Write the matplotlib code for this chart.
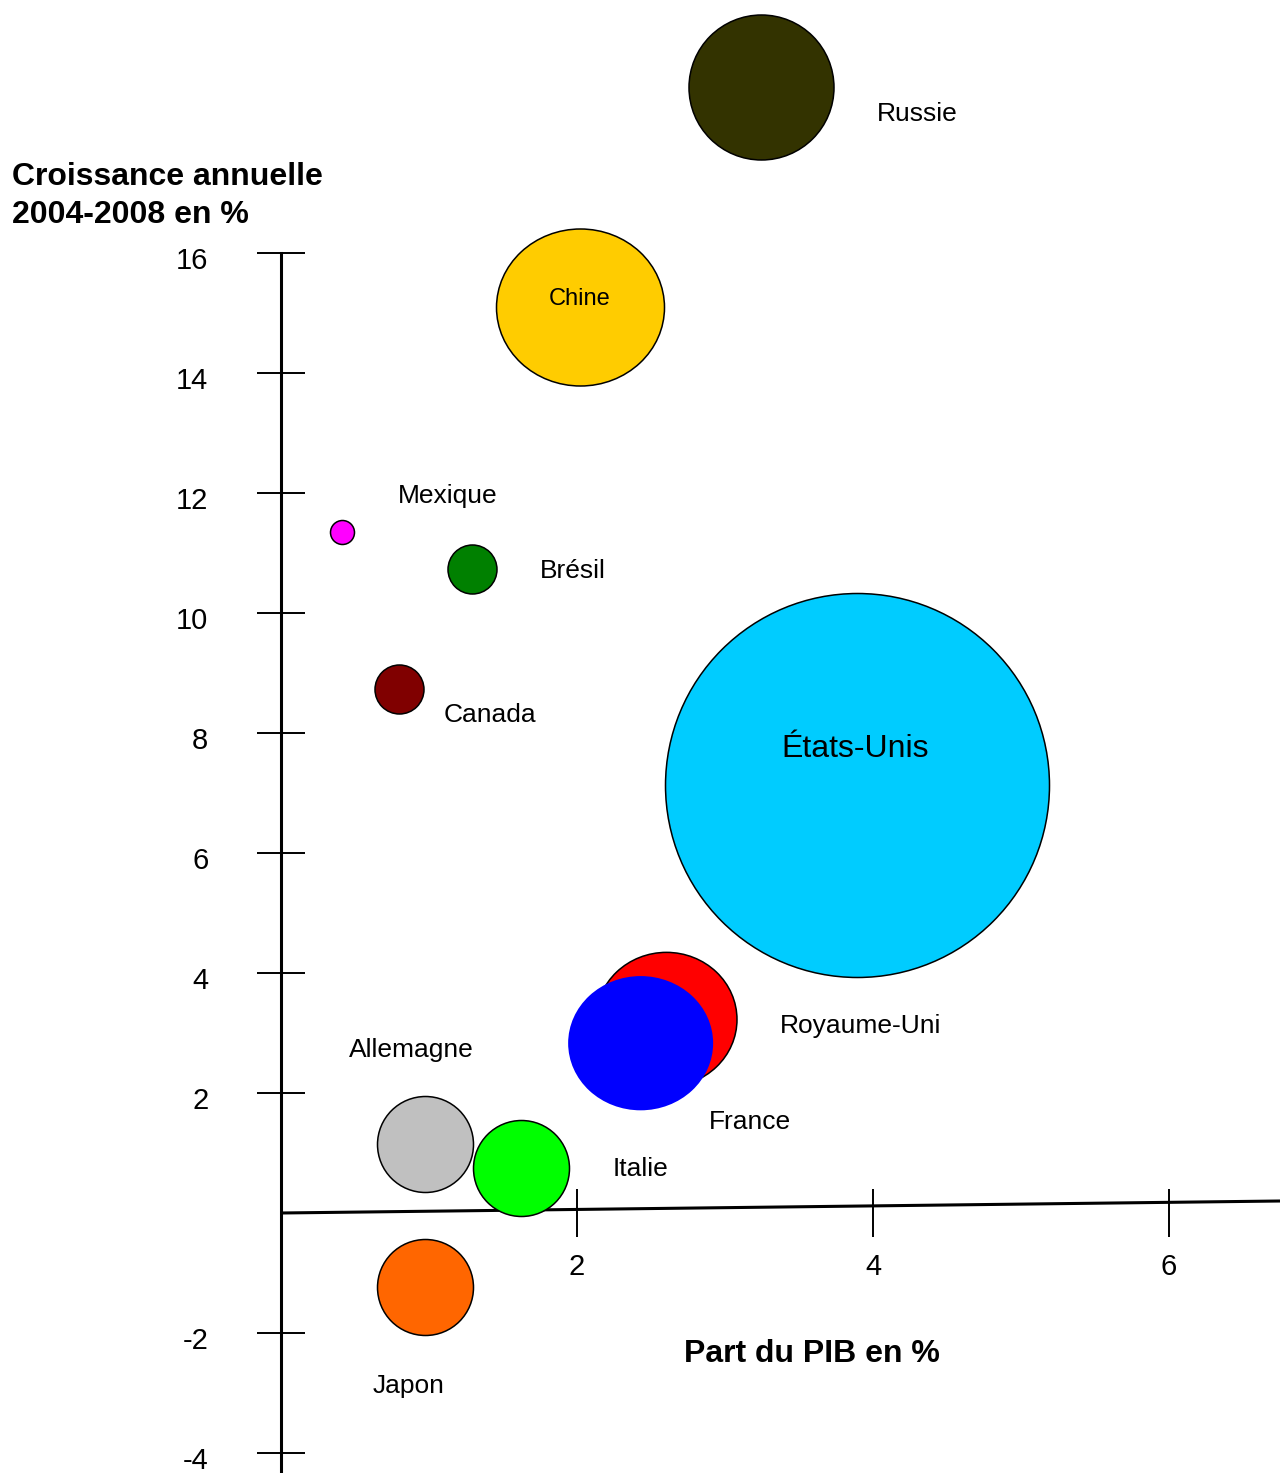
import numpy as np
import matplotlib
matplotlib.use("Agg")
import matplotlib.pyplot as plt
from matplotlib.path import Path
from matplotlib.transforms import ScaledTranslation

plt.rcParams['font.family'] = ['Liberation Sans', 'DejaVu Sans']

# données
pays = ['Russie', 'Chine', 'Mexique', 'Brésil', 'Canada', 'États-Unis',
        'Royaume-Uni', 'France', 'Allemagne', 'Italie', 'Japon']
part_pib = [3.24, 2.02, 0.41, 1.29, 0.80, 3.89, 2.60, 2.43, 0.97, 1.62, 0.97]
croissance = [18.77, 15.10, 11.35, 10.74, 8.74, 7.14, 3.23, 2.83, 1.15, 0.75, -1.23]
taille = [145, 168, 24, 49, 49, 384, 141, 145, 96, 96, 96]
couleurs = ['#333300', '#FFCC00', '#FF00FF', '#008000', '#800000', '#00CCFF',
            '#FF0000', '#0000FF', '#C0C0C0', '#00FF00', '#FF6600']
y_ticks = [-4, -2, 2, 4, 6, 8, 10, 12, 14, 16]
x_ticks = [2, 4, 6]

# forme des bulles (largeur / hauteur) et décalage des étiquettes en pixels
aspect = {'Chine': 1.07, 'Royaume-Uni': 1.05, 'France': 1.08}
etiq = {
    'Russie': (116, -27, 'left', 19),
    'Chine': (0, 8, 'center', 17),
    'Mexique': (56, 36, 'left', 19),
    'Brésil': (68, -2, 'left', 19),
    'Canada': (44, -26, 'left', 19),
    'États-Unis': (-2, 36, 'center', 23),
    'Royaume-Uni': (114, -7, 'left', 19),
    'France': (68, -79, 'left', 19),
    'Allemagne': (-76, 94, 'left', 19),
    'Italie': (92, -1, 'left', 19),
    'Japon': (-52, -99, 'left', 19),
}

W, H, DPI = 1280, 1473, 100
fig = plt.figure(figsize=(W / DPI, H / DPI), dpi=DPI)
ax = fig.add_axes([0, 0, 1, 1])
ax.set_xlim(-281 / 148, (W - 281) / 148)
ax.set_ylim((1213 - H) / 60, 1213 / 60)
ax.patch.set_visible(False)


def marqueur(a):
    c = Path.unit_circle()
    return Path(c.vertices * [a, 1.0], c.codes)


for p, x, y, d, col in zip(pays, part_pib, croissance, taille, couleurs):
    a = aspect.get(p, 1.0)
    ax.scatter([x], [y], s=(d * 72 / DPI) ** 2, marker=marqueur(a),
               color=col, edgecolor='none' if p == 'France' else 'black',
               linewidth=1.1, zorder=3)
    dx, dy, ha, fs = etiq[p]
    ax.annotate(p, (x, y), xytext=(dx, dy), textcoords='offset pixels',
                ha=ha, va='center', fontsize=fs, zorder=4)

# axes
for s in ['top', 'right']:
    ax.spines[s].set_visible(False)
ax.spines['left'].set_position(('data', 0))
ax.spines['left'].set_bounds(ax.get_ylim()[0], 16)
ax.spines['left'].set_linewidth(2.2)
ax.spines['bottom'].set_position(('data', 0))
ax.spines['bottom'].set_color('none')
ax.plot([0, ax.get_xlim()[1]], [0, 0.2], color='black', lw=2.2,
        zorder=2.5, solid_capstyle='butt')

ax.set_yticks(y_ticks)
ax.set_yticklabels([str(v) for v in y_ticks])
ax.set_xticks(x_ticks)
ax.set_xticklabels([str(v) for v in x_ticks])
ax.tick_params(axis='y', direction='inout', length=34.5, width=1.4,
               pad=35, labelsize=21, colors='black')
ax.tick_params(axis='x', direction='inout', length=35, width=1.4,
               pad=11, labelsize=21, colors='black')
decal = ScaledTranslation(0, -5 / DPI, fig.dpi_scale_trans)
for lab in ax.get_yticklabels():
    lab.set_transform(lab.get_transform() + decal)

fig.text(12 / W, 1 - 196 / H, 'Croissance annuelle\n2004-2008 en %',
         ha='left', va='center', fontsize=23, fontweight='bold',
         linespacing=1.34)
fig.text(812 / W, 1 - 1354 / H, 'Part du PIB en %', ha='center',
         va='center', fontsize=23, fontweight='bold')

fig.savefig('out.png', dpi=DPI)
